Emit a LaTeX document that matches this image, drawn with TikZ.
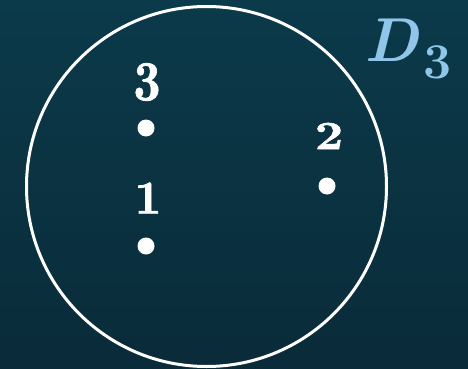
\documentclass[tikz,border=0pt]{standalone}
\usepackage{fontspec}
\newfontface\heavydigits{lmroman10-bold.otf}[RawFeature={embolden=1.5}]
\definecolor{bgtop}{HTML}{0B3A4A}
\definecolor{bgbot}{HTML}{0A2B39}
\definecolor{dlabel}{HTML}{90C6EA}
\tikzset{
  ptlabel/.style={text=white, inner sep=0pt, font=\fontsize{47}{47}\selectfont\heavydigits},
  ptdot/.style={circle, fill=white, inner sep=0pt, minimum size=17pt},
  setcircle/.style={draw=white, line width=3pt},
  dtext/.style={text=dlabel, inner sep=0pt}
}
\begin{document}
\begin{tikzpicture}[x=1pt,y=-1pt]
\shade[top color=bgtop, bottom color=bgbot] (0,0) rectangle (468,369);
\useasboundingbox (0,0) rectangle (468,369);
\node[setcircle, circle, minimum size=360pt, inner sep=0pt] (disk) at (206.5,186.5) {};
\node[ptdot] (p3) at (146,128) {};
\node[ptlabel, yscale=1.2] (l3) at (147,82) {3};
\node[ptdot] (p2) at (327,186) {};
\node[ptlabel, yscale=0.85, xscale=1.05] (l2) at (329,136) {2};
\node[ptdot] (p1) at (146,246) {};
\node[ptlabel] (l1) at (148,198) {1};
\node[dtext, font=\fontsize{62}{62}\selectfont\bfseries\itshape, anchor=base west] (D) at (364,62) {D};
\node[dtext, font=\fontsize{50}{50}\selectfont\bfseries, anchor=base west] (Dsub) at (423,78) {3};
\end{tikzpicture}
\end{document}
